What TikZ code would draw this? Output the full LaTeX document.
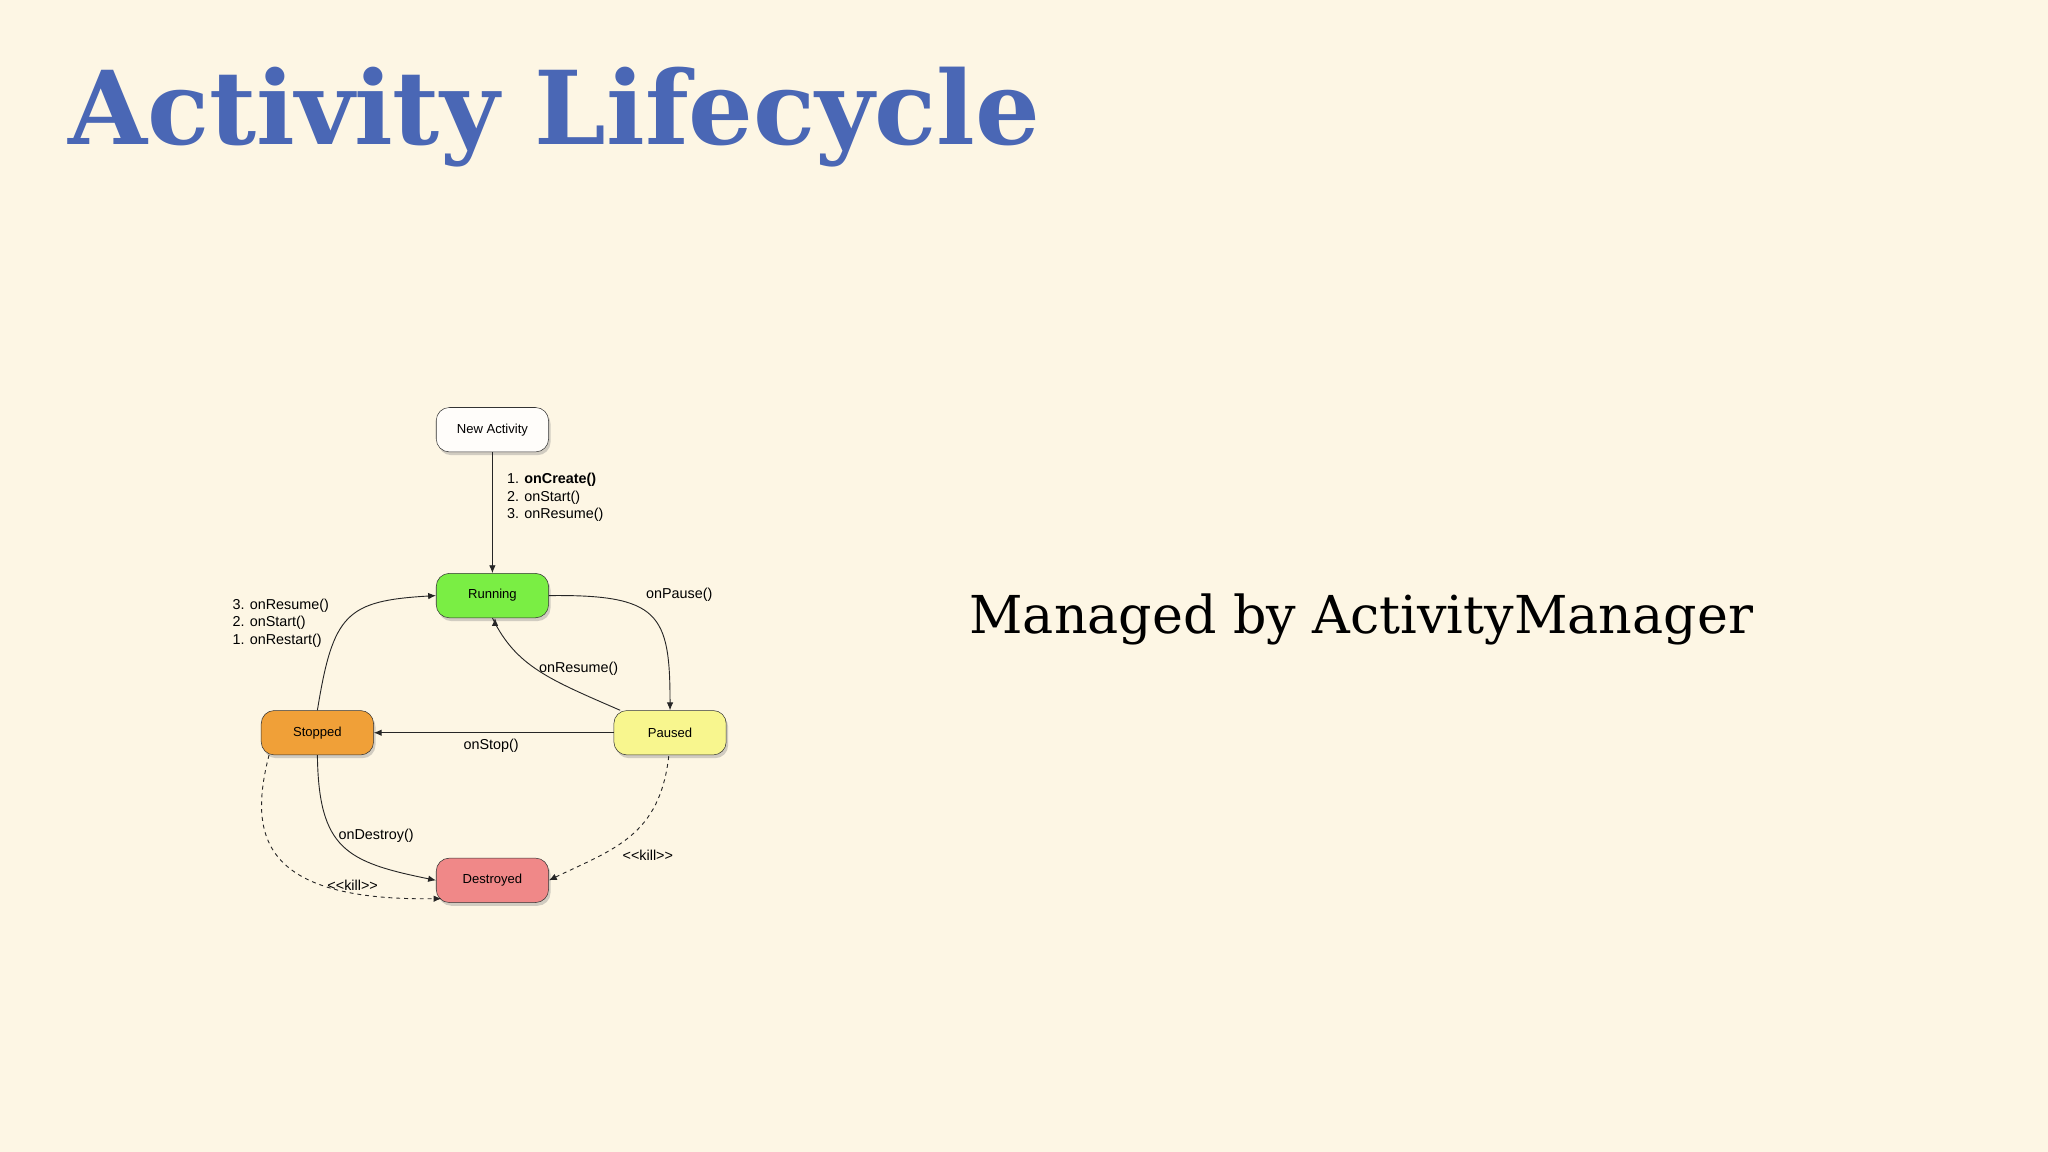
\documentclass[tikz,border=0pt]{standalone}
\usepackage{fontspec}
\setmainfont{DejaVu Serif}
\newfontfamily\diag{Liberation Sans}
\usetikzlibrary{shadows,arrows.meta}
\definecolor{bg}{HTML}{FDF6E4}
\definecolor{ttl}{HTML}{4A67B5}
\tikzset{
 st/.style={draw=black!80,rounded corners=10pt,minimum width=86pt,minimum height=34pt,font=\diag\fontsize{10}{12}\selectfont,drop shadow={shadow xshift=1.5pt,shadow yshift=-2.5pt,opacity=0.35}},
 ar/.style={draw=black!85,line width=0.7pt,-{Latex[length=6pt,width=5pt]}},
 lb/.style={font=\diag\fontsize{11}{13.5}\selectfont,align=left,inner sep=0pt}
}
\begin{document}
\begin{tikzpicture}[x=1pt,y=-1pt]
\fill[bg] (0,0) rectangle (1568,882);
\node[anchor=west,text=ttl,font=\fontsize{78}{90}\selectfont\bfseries,inner sep=0pt] (title) at (52,90) {Activity Lifecycle};
\node[anchor=west,font=\fontsize{40}{46}\selectfont,inner sep=0pt] (mgr) at (742,474) {Managed by ActivityManager};
\node[st,fill=white!80!bg] (new) at (377,329) {New Activity};
\node[st,fill={rgb,255:red,122;green,238;blue,68}] (run) at (377,456) {Running};
\node[st,fill={rgb,255:red,248;green,246;blue,142}] (pau) at (513,561) {Paused};
\node[st,fill={rgb,255:red,240;green,160;blue,56}] (sto) at (243,561) {Stopped};
\node[st,fill={rgb,255:red,240;green,136;blue,136}] (des) at (377,674) {Destroyed};
\draw[ar] (new) -- (run);
\node[lb,anchor=west] (l1) at (388,381) {1. \textbf{onCreate()}\\2. onStart()\\3. onResume()};
\draw[ar] (run.east) .. controls (505,455) and (513,470) .. (pau.north);
\node[lb] (l2) at (520,455) {onPause()};
\draw[ar] (pau.north west) ++(5,0) coordinate (pa) (pa) .. controls (420,520) and (395,510) .. (run.south) ++(2,0);
\node[lb] (l3) at (443,512) {onResume()};
\draw[ar] (pau.west) -- (sto.east);
\node[lb] (l4) at (376,571) {onStop()};
\draw[ar] (sto.north) .. controls (255,470) and (265,460) .. (run.west);
\node[lb,anchor=east] (l5) at (252,477) {3. onResume()\\2. onStart()\\1. onRestart()};
\draw[ar] (sto.south) .. controls (244,650) and (265,660) .. (des.west);
\node[lb] (l6) at (288,640) {onDestroy()};
\coordinate (sk) at (206,578);
\coordinate (dk) at (338,688);
\draw[ar,dashed] (sk) .. controls (190,640) and (200,690) .. (dk);
\node[lb] (l7) at (270,678) {<<kill>>};
\coordinate (pk) at (512,579);
\draw[ar,dashed] (pk) .. controls (505,640) and (470,650) .. (des.east);
\node[lb] (l8) at (496,655) {<<kill>>};
\end{tikzpicture}
\end{document}
